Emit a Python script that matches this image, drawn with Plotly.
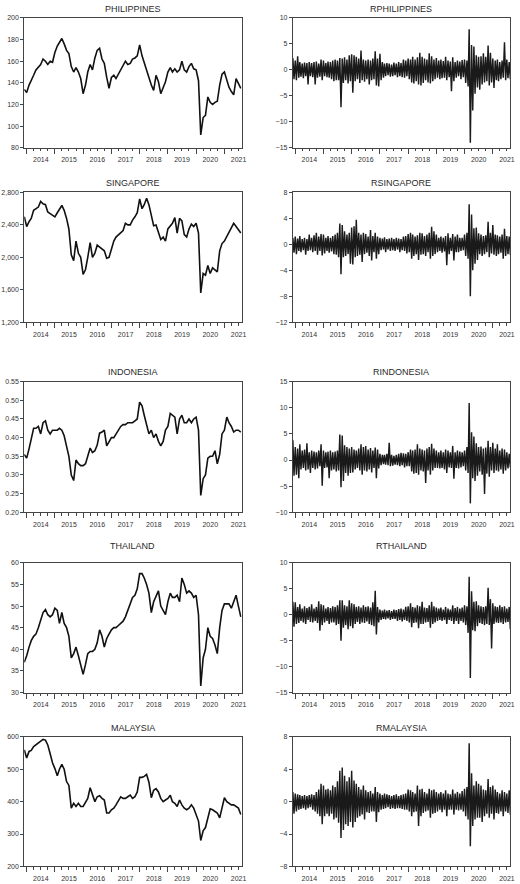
"""ASEAN stock index levels and daily returns, 2014-2021 (EViews-style panel)."""
import pandas as pd
import plotly.graph_objects as go

# month axis: Dec 2013 .. Aug 2021 (93 months)
months = pd.date_range("2013-12-01", periods=93, freq="MS")

# index levels
philippines = [134,
               131, 138, 143, 147, 152, 155, 157, 162, 160, 157, 160, 159,
               168, 174, 177, 181, 176, 170, 167, 155, 150, 154, 150, 144,
               130, 138, 150, 157, 152, 163, 170, 172, 162, 158, 145, 135,
               145, 147, 144, 148, 153, 157, 160, 157, 158, 162, 163, 165,
               175, 165, 158, 152, 145, 138, 133, 147, 141, 130, 136, 141,
               150, 154, 150, 153, 150, 152, 160, 152, 150, 155, 158, 153,
               152, 142, 92, 108, 110, 127, 122, 120, 122, 123, 138, 148,
               150, 142, 136, 132, 129, 144, 140, 135]
singapore = [2500,
             2380, 2440, 2480, 2580, 2600, 2620, 2690, 2660, 2650, 2560, 2540, 2520,
             2500, 2550, 2600, 2640, 2580, 2480, 2350, 2030, 1960, 2200, 2050, 2000,
             1790, 1850, 2000, 2180, 2000, 2050, 2150, 2130, 2100, 2080, 1990, 2000,
             2100, 2200, 2250, 2280, 2300, 2330, 2420, 2400, 2400, 2460, 2500, 2550,
             2720, 2600, 2650, 2730, 2650, 2500, 2390, 2400, 2300, 2220, 2250, 2200,
             2350, 2380, 2420, 2490, 2300, 2480, 2450, 2280, 2250, 2350, 2410, 2380,
             2420, 2300, 1560, 1800, 1780, 1900, 1800, 1870, 1850, 1820, 2080, 2170,
             2200, 2260, 2320, 2380, 2420, 2380, 2340, 2300]
indonesia = [0.355,
             0.345, 0.37, 0.395, 0.425, 0.425, 0.43, 0.41, 0.44, 0.445, 0.42, 0.41, 0.42,
             0.42, 0.42, 0.425, 0.42, 0.405, 0.375, 0.35, 0.30, 0.285, 0.34, 0.33, 0.325,
             0.325, 0.33, 0.35, 0.372, 0.36, 0.365, 0.38, 0.412, 0.415, 0.42, 0.378, 0.39,
             0.40, 0.40, 0.41, 0.42, 0.43, 0.435, 0.435, 0.44, 0.44, 0.44, 0.445, 0.45,
             0.495, 0.485, 0.46, 0.43, 0.41, 0.42, 0.40, 0.41, 0.39, 0.378, 0.39, 0.42,
             0.43, 0.465, 0.46, 0.455, 0.41, 0.45, 0.46, 0.44, 0.44, 0.45, 0.44, 0.45,
             0.455, 0.42, 0.245, 0.29, 0.30, 0.345, 0.35, 0.35, 0.365, 0.33, 0.355, 0.41,
             0.42, 0.455, 0.44, 0.43, 0.415, 0.42, 0.42, 0.415]
thailand = [37.0,
            38.5, 40.5, 42.0, 43.0, 43.5, 45.0, 47.0, 48.5, 49.2, 48.0, 47.5, 48.0,
            49.5, 49.0, 46.0, 48.5, 46.0, 45.0, 43.0, 38.0, 39.0, 40.5, 38.5, 36.5,
            34.2, 36.5, 39.0, 39.5, 39.5, 40.0, 41.5, 44.5, 43.0, 40.5, 42.5, 43.5,
            44.5, 45.0, 45.0, 45.5, 46.0, 46.5, 47.5, 49.0, 51.0, 52.0, 52.5, 54.0,
            57.5, 57.5, 56.5, 55.0, 53.0, 48.5, 51.0, 52.5, 53.5, 50.0, 49.0, 48.0,
            51.0, 53.0, 52.0, 52.0, 52.5, 51.0, 56.5, 55.0, 53.0, 53.5, 53.0, 52.0,
            52.5, 48.0, 31.5, 38.0, 40.0, 45.0, 43.0, 42.5, 41.0, 39.0, 45.0, 49.0,
            50.5, 50.5, 50.5, 49.5, 51.0, 52.5, 50.0, 47.5]
malaysia = [560,
            535, 555, 558, 570, 575, 580, 585, 592, 590, 575, 548, 520,
            502, 480, 500, 515, 500, 462, 450, 380, 395, 385, 395, 385,
            385, 400, 410, 443, 420, 400, 415, 418, 410, 405, 365, 365,
            375, 380, 390, 405, 415, 410, 410, 415, 420, 410, 415, 430,
            475, 475, 478, 484, 460, 412, 435, 440, 430, 410, 400, 405,
            410, 420, 400, 395, 385, 405, 390, 380, 375, 380, 390, 380,
            362, 340, 280, 310, 320, 350, 378, 375, 370, 365, 350, 385,
            412, 400, 395, 390, 390, 385, 380, 360]

# daily returns: highest and lowest value seen in each month
rphil_hi = [2.3,
            1.8, 2.6, 1.5, 1.2, 1.4, 1.3, 1.5, 1.3, 1.5, 1.6, 1.2, 2.0,
            1.8, 1.3, 1.6, 1.5, 1.8, 2.0, 1.8, 2.3, 2.2, 2.4, 2.0, 2.8,
            3.0, 2.8, 2.5, 2.2, 3.7, 2.0, 1.8, 2.0, 1.8, 2.2, 3.6, 2.2,
            3.1, 1.5, 1.2, 1.3, 1.2, 1.0, 1.4, 1.2, 1.5, 1.3, 2.0, 1.8,
            2.2, 2.0, 2.5, 2.0, 2.4, 3.3, 2.5, 2.2, 2.0, 3.2, 2.6, 2.0,
            2.3, 1.8, 2.0, 1.7, 2.5, 1.8, 1.6, 2.4, 1.5, 1.8, 1.6, 1.9,
            2.0, 1.8, 7.8, 4.8, 4.5, 2.8, 2.5, 2.6, 3.2, 2.5, 4.7, 3.3,
            2.2, 1.8, 2.0, 1.5, 1.8, 5.3, 2.0, 1.5]
rphil_lo = [-1.8,
            -2.0, -1.5, -1.3, -1.6, -1.2, -2.8, -1.2, -1.4, -2.8, -1.5, -1.3, -2.0,
            -1.2, -1.4, -1.5, -1.8, -2.2, -2.0, -2.0, -7.2, -2.5, -2.0, -2.6, -2.2,
            -4.4, -2.2, -1.8, -2.5, -2.0, -2.3, -1.8, -2.8, -2.0, -1.8, -3.0, -3.2,
            -2.0, -1.5, -1.2, -1.0, -1.3, -1.2, -1.0, -1.4, -1.2, -1.4, -1.5, -1.2,
            -1.8, -2.4, -2.6, -2.2, -2.8, -3.0, -2.5, -2.0, -2.4, -2.6, -2.2, -1.8,
            -1.5, -1.8, -1.6, -1.5, -2.0, -1.4, -4.1, -2.2, -1.5, -1.2, -1.8, -1.4,
            -2.5, -3.2, -14.0, -7.8, -4.6, -3.4, -3.8, -2.8, -2.4, -2.2, -3.0, -2.4,
            -3.5, -2.0, -2.2, -1.8, -1.5, -2.0, -1.6, -1.8]
rsing_hi = [1.0,
            1.2, 0.9, 1.3, 0.8, 1.0, 0.8, 1.5, 1.0, 1.4, 1.8, 1.2, 1.6,
            1.5, 1.0, 1.3, 1.0, 1.3, 1.5, 1.8, 3.2, 3.0, 2.0, 1.5, 1.8,
            2.6, 2.8, 3.8, 1.8, 1.5, 1.8, 1.6, 1.2, 2.2, 1.3, 1.8, 1.2,
            1.0, 0.9, 1.1, 0.8, 0.9, 1.0, 0.8, 1.0, 0.9, 0.8, 1.2, 1.3,
            1.6, 1.8, 1.5, 1.2, 1.4, 1.8, 1.7, 1.3, 1.5, 1.8, 2.7, 2.0,
            1.5, 1.0, 1.2, 1.0, 1.3, 1.7, 1.0, 1.6, 1.2, 1.5, 1.0, 1.0,
            1.5, 1.8, 6.2, 4.6, 2.5, 2.6, 1.7, 1.5, 1.3, 1.4, 3.5, 1.8,
            3.0, 1.5, 1.4, 1.2, 1.5, 2.4, 1.3, 1.2]
rsing_lo = [-1.3,
            -1.5, -1.0, -1.2, -0.9, -1.6, -1.0, -0.9, -1.2, -1.0, -1.6, -1.0, -1.7,
            -1.4, -1.0, -1.3, -1.1, -1.5, -1.6, -2.0, -4.6, -2.0, -1.8, -1.5, -3.0,
            -3.1, -2.0, -1.8, -1.6, -2.7, -1.5, -1.3, -1.8, -2.5, -1.2, -2.2, -1.5,
            -0.9, -0.8, -1.2, -0.8, -1.0, -0.9, -1.0, -0.8, -1.2, -0.9, -1.0, -1.4,
            -1.2, -2.2, -1.8, -1.5, -2.4, -1.6, -1.5, -1.8, -1.2, -2.2, -1.8, -1.5,
            -1.2, -1.0, -1.3, -1.1, -3.2, -1.5, -1.0, -2.5, -1.2, -1.2, -1.0, -0.9,
            -1.8, -2.2, -8.0, -4.0, -3.0, -2.4, -1.5, -1.8, -1.5, -1.2, -2.0, -1.4,
            -1.6, -1.8, -1.5, -1.3, -2.2, -1.8, -1.5, -1.6]
rindo_hi = [3.8,
            2.5, 2.2, 3.0, 1.8, 2.0, 3.2, 1.5, 1.8, 1.6, 1.5, 1.8, 3.0,
            1.8, 1.5, 1.6, 1.8, 1.5, 1.6, 1.8, 4.9, 4.7, 2.8, 2.5, 2.2,
            2.5, 2.0, 1.8, 2.2, 3.0, 2.5, 2.7, 2.0, 2.3, 1.8, 2.4, 2.0,
            1.2, 1.0, 1.0, 1.2, 3.3, 1.0, 0.8, 1.0, 1.2, 1.4, 1.3, 1.2,
            1.5, 2.0, 1.8, 2.0, 3.0, 2.2, 2.0, 1.8, 2.2, 2.5, 3.1, 2.2,
            1.8, 1.5, 1.8, 1.5, 2.0, 1.8, 1.5, 2.7, 1.5, 1.8, 1.6, 1.5,
            1.8, 2.5, 10.9, 5.3, 4.5, 3.2, 2.5, 2.6, 2.2, 2.4, 3.7, 2.5,
            3.3, 2.2, 3.0, 1.8, 2.2, 2.0, 1.5, 1.2]
rindo_lo = [-3.0,
            -2.8, -3.5, -1.8, -1.5, -2.0, -1.8, -2.5, -1.5, -1.8, -1.6, -1.2, -4.9,
            -1.5, -1.4, -3.5, -2.0, -1.8, -2.2, -2.0, -5.2, -4.0, -2.5, -3.0, -2.5,
            -2.4, -1.8, -1.5, -2.0, -2.8, -2.0, -2.2, -1.8, -2.4, -1.5, -3.5, -1.6,
            -1.0, -0.8, -0.9, -1.0, -1.2, -1.1, -0.9, -1.0, -1.2, -1.0, -1.4, -1.2,
            -1.2, -2.2, -2.6, -2.5, -2.8, -2.0, -2.2, -4.4, -2.0, -2.8, -2.0, -1.5,
            -1.5, -1.6, -1.5, -1.8, -2.5, -1.4, -1.5, -3.6, -1.5, -1.6, -1.4, -1.2,
            -2.0, -2.5, -8.3, -3.5, -4.0, -3.0, -2.2, -2.8, -6.5, -2.6, -3.2, -2.0,
            -2.5, -2.0, -2.2, -1.8, -2.6, -2.0, -1.6, -1.4]
rthai_hi = [2.5,
            2.4, 1.5, 2.0, 1.2, 1.6, 1.3, 1.5, 2.0, 1.2, 1.5, 2.6, 2.0,
            1.8, 1.2, 1.5, 1.3, 1.6, 1.5, 1.8, 2.8, 2.8, 1.8, 1.6, 2.8,
            2.2, 2.0, 1.5, 1.6, 1.4, 1.8, 1.5, 1.6, 1.4, 2.4, 4.6, 1.5,
            1.0, 0.8, 1.0, 0.8, 0.9, 0.7, 1.0, 0.9, 1.1, 1.2, 1.0, 1.5,
            1.6, 2.2, 1.5, 1.4, 1.8, 1.6, 2.5, 1.4, 1.3, 1.8, 2.5, 1.6,
            1.4, 1.2, 1.4, 1.0, 1.5, 1.2, 1.0, 1.8, 1.3, 1.5, 1.2, 1.4,
            1.8, 1.6, 7.3, 4.5, 2.5, 2.6, 1.8, 1.6, 1.5, 1.6, 5.2, 3.0,
            2.2, 1.6, 1.5, 1.8, 1.5, 1.6, 1.2, 1.5]
rthai_lo = [-2.3,
            -1.8, -1.6, -1.2, -1.5, -1.8, -1.0, -1.4, -1.5, -1.2, -1.6, -3.1, -2.0,
            -1.5, -1.2, -1.8, -1.5, -1.5, -2.0, -1.8, -5.0, -2.5, -2.0, -2.8, -2.2,
            -2.6, -1.8, -1.4, -1.8, -1.5, -1.6, -1.3, -1.8, -2.0, -2.2, -3.8, -1.5,
            -1.0, -0.8, -0.9, -0.7, -1.0, -0.8, -0.8, -1.2, -1.0, -1.3, -1.0, -1.2,
            -1.5, -2.4, -1.6, -1.5, -2.6, -1.8, -1.8, -1.5, -1.4, -2.5, -1.8, -1.5,
            -1.2, -1.0, -1.2, -1.0, -1.8, -1.0, -1.2, -1.8, -1.2, -1.8, -1.2, -1.5,
            -2.0, -3.5, -12.2, -3.0, -3.2, -2.2, -1.6, -1.8, -2.0, -1.8, -2.0, -6.5,
            -1.8, -1.5, -1.6, -1.5, -1.8, -1.5, -1.4, -2.8]
rmal_hi = [1.2,
           1.0, 0.9, 0.8, 0.7, 0.8, 0.7, 0.8, 0.9, 0.8, 1.2, 1.5, 2.2,
           2.0, 1.5, 1.6, 1.4, 2.0, 1.8, 2.5, 3.8, 4.2, 3.2, 2.5, 3.0,
           3.8, 2.6, 2.2, 1.8, 1.5, 2.0, 1.4, 1.2, 1.3, 1.0, 1.8, 1.2,
           1.0, 0.8, 1.0, 0.9, 0.8, 0.7, 0.8, 0.9, 0.7, 0.8, 0.9, 1.0,
           1.5, 1.4, 1.2, 1.0, 2.0, 1.5, 1.6, 1.2, 1.0, 1.6, 1.4, 1.5,
           1.2, 1.0, 1.2, 1.0, 1.4, 1.0, 0.9, 1.5, 1.0, 1.2, 1.0, 1.3,
           1.6, 1.8, 7.2, 3.5, 2.0, 2.5, 2.2, 2.0, 1.5, 1.4, 2.8, 1.8,
           2.0, 1.5, 1.2, 1.0, 1.4, 1.2, 1.0, 1.4]
rmal_lo = [-1.5,
           -1.2, -1.0, -0.9, -0.8, -1.0, -0.8, -0.7, -1.0, -1.2, -1.5, -1.8, -2.8,
           -1.8, -1.5, -1.8, -1.5, -2.2, -2.0, -2.6, -4.5, -3.5, -2.8, -3.0, -2.5,
           -3.2, -2.5, -2.0, -1.8, -1.6, -2.2, -1.3, -1.4, -1.2, -1.2, -2.5, -1.3,
           -1.0, -0.9, -0.8, -0.7, -0.9, -0.8, -0.9, -0.8, -0.8, -0.9, -1.0, -1.0,
           -1.2, -1.8, -1.3, -1.2, -3.0, -1.8, -1.4, -1.2, -1.1, -2.0, -1.5, -1.4,
           -1.2, -1.0, -1.3, -1.0, -1.8, -1.0, -1.0, -1.6, -1.0, -1.1, -1.0, -1.2,
           -1.8, -2.2, -5.5, -3.0, -2.2, -2.0, -2.0, -2.5, -1.8, -1.5, -2.0, -1.5,
           -2.2, -1.4, -1.5, -1.2, -1.8, -1.2, -1.4, -1.6]

# panel titles, axis ranges and tick steps
titles = ["PHILIPPINES", "RPHILIPPINES", "SINGAPORE", "RSINGAPORE",
          "INDONESIA", "RINDONESIA", "THAILAND", "RTHAILAND",
          "MALAYSIA", "RMALAYSIA"]
y_ranges = [[80, 200], [-15, 10], [1200, 2800], [-12, 8], [0.20, 0.55],
            [-10, 15], [30, 60], [-15, 10], [200, 600], [-8, 8]]
y_steps = [20, 5, 400, 4, 0.05, 5, 5, 5, 100, 4]
y_formats = ["", "", ",", "", ".2f", "", "", "", "", ""]

levels = [philippines, singapore, indonesia, thailand, malaysia]
returns = [(rphil_hi, rphil_lo), (rsing_hi, rsing_lo), (rindo_hi, rindo_lo),
           (rthai_hi, rthai_lo), (rmal_hi, rmal_lo)]

W, H = 520, 884
FONT = "Liberation Sans, Arial, sans-serif"
col_px = [(24.5, 244.0), (295.7, 515.0)]
row_px = [(14, 145), (190, 320.7), (380.7, 512.3), (563.3, 694), (738.7, 869.3)]
title_px = [5, 180.5, 370.5, 546, 729.5]

fig = go.Figure()
layout = {}
annotations = []

for i in range(10):
    row, col = divmod(i, 2)
    n = i + 1
    xa = "x" if n == 1 else f"x{n}"
    ya = "y" if n == 1 else f"y{n}"

    if col == 0:
        fig.add_trace(go.Scatter(
            x=months, y=levels[row], mode="lines",
            line=dict(color="#111111", width=1.6),
            xaxis=xa, yaxis=ya, showlegend=False
        ))
    else:
        # zigzag between the monthly high and low of the returns
        hi, lo = returns[row]
        xs, ys = [], []
        for d, h, l in zip(months, hi, lo):
            xs += [d, d + pd.Timedelta(days=15)]
            ys += [h, l]
        fig.add_trace(go.Scatter(
            x=xs, y=ys, mode="lines",
            line=dict(color="#1a1a1a", width=1.45),
            xaxis=xa, yaxis=ya, showlegend=False
        ))

    x0, x1 = col_px[col]
    top, bot = row_px[row]
    ax_style = dict(showline=True, linecolor="#444444", linewidth=1, mirror=True,
                    showgrid=False, zeroline=False, ticks="outside",
                    tickcolor="#444444", tickfont=dict(family=FONT, size=7, color="#333333"))

    layout[f"xaxis{'' if n == 1 else n}"] = dict(
        ax_style, type="date", domain=[x0 / W, x1 / W], anchor=ya,
        range=["2013-12-01", "2021-08-12"], dtick="M12", tick0="2014-01-01",
        tickformat="%Y", ticklabelmode="period", ticklen=5,
        minor=dict(dtick="M3", tick0="2014-01-01", ticklen=2.5, ticks="outside",
                   tickcolor="#444444")
    )
    lo_r, hi_r = y_ranges[i]
    layout[f"yaxis{'' if n == 1 else n}"] = dict(
        ax_style, domain=[1 - bot / H, 1 - top / H], anchor=xa,
        range=[lo_r, hi_r], dtick=y_steps[i], tick0=lo_r, ticklen=3,
        tickformat=y_formats[i]
    )

    annotations.append(dict(
        text=titles[i], xref="paper", yref="paper",
        x=(x0 + x1) / 2 / W, y=1 - title_px[row] / H,
        xanchor="center", yanchor="middle", showarrow=False,
        font=dict(family=FONT, size=9, color="#2a2a2a")
    ))

fig.update_layout(
    width=W, height=H, autosize=False,
    margin=dict(l=0, r=0, t=0, b=0),
    paper_bgcolor="white", plot_bgcolor="white",
    annotations=annotations,
    **layout
)

# drop the page's default body margin so the figure fills the window
fig.write_html("out.html", config={"displayModeBar": False},
               post_script="document.body.style.margin = '0px';")
